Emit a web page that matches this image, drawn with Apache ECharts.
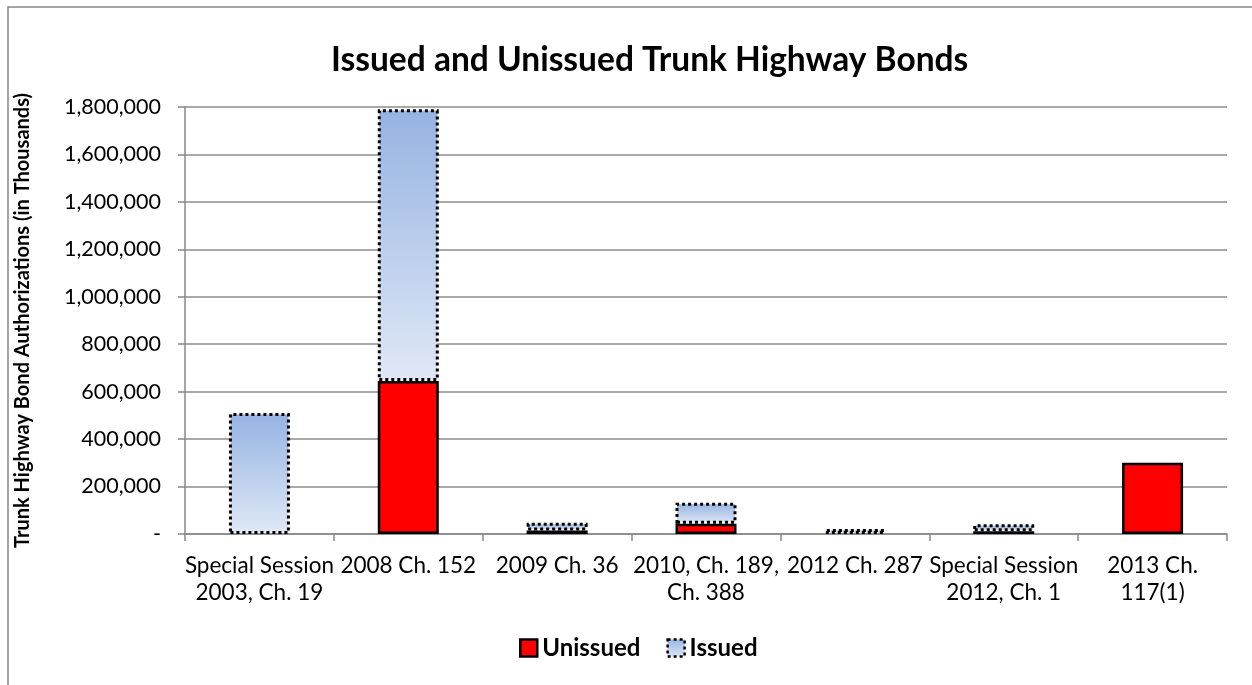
<!DOCTYPE html>
<html>
<head>
<meta charset="utf-8">
<script src="https://cdn.jsdelivr.net/npm/echarts@6/dist/echarts.min.js"></script>
<style>
html,body{margin:0;padding:0;background:#fff;}
#chart{width:1252px;height:685px;}
</style>
</head>
<body>
<div id="chart"></div>
<script>
const categories = [
  "Special Session\n2003, Ch. 19",
  "2008 Ch. 152",
  "2009 Ch. 36",
  "2010, Ch. 189,\nCh. 388",
  "2012 Ch. 287",
  "Special Session\n2012, Ch. 1",
  "2013 Ch.\n117(1)"
];
const unissued = [0, 645000, 15000, 43000, 0, 12000, 300000];
const issued = [510000, 1145000, 32000, 89000, 21000, 29000, 0];
const yTicks = { min: 0, max: 1800000, interval: 200000 };

const FONT = "Lato, 'Open Sans', sans-serif";
const chart = echarts.init(document.getElementById('chart'));
const issuedGradient = new echarts.graphic.LinearGradient(0, 0, 0, 1, [
  { offset: 0, color: '#95b3e2' },
  { offset: 1, color: '#e0e8f6' }
]);
const nz = arr => arr.map(v => (v === 0 ? null : v));
chart.setOption({
  animation: false,
  backgroundColor: '#fff',
  textStyle: { fontFamily: FONT },
  graphic: [{
    type: 'rect',
    shape: { x: 8, y: 7, width: 1400, height: 800 },
    style: { fill: 'none', stroke: '#888', lineWidth: 1.5 },
    silent: true
  }],
  title: {
    text: 'Issued and Unissued Trunk Highway Bonds',
    left: 326,
    top: 38,
    textStyle: { fontFamily: FONT, fontSize: 33.5, fontWeight: 'bold', color: '#000' }
  },
  legend: {
    bottom: 20,
    left: 514,
    icon: 'rect',
    itemWidth: 17,
    itemHeight: 17,
    itemGap: 26,
    textStyle: { fontFamily: FONT, fontSize: 24, fontWeight: 'bold', color: '#000' },
    data: [
      { name: 'Unissued', itemStyle: { color: '#ff0000', borderColor: '#000', borderWidth: 2.5 } },
      { name: 'Issued', itemStyle: { color: issuedGradient, borderColor: '#000', borderWidth: 2.5, borderType: [3, 3] } }
    ]
  },
  grid: { left: 185, right: 25, top: 107, bottom: 151, containLabel: false },
  xAxis: {
    type: 'category',
    data: categories,
    axisLine: { lineStyle: { color: '#888', width: 1.5 } },
    axisTick: { show: true, alignWithLabel: false, length: 7, lineStyle: { color: '#888', width: 1.5 } },
    axisLabel: { fontFamily: FONT, fontSize: 22.5, color: '#000', lineHeight: 27, margin: 18, interval: 0 }
  },
  yAxis: {
    type: 'value',
    min: yTicks.min,
    max: yTicks.max,
    interval: yTicks.interval,
    name: 'Trunk Highway Bond Authorizations (in Thousands)',
    nameLocation: 'middle',
    nameGap: 152,
    nameRotate: 90,
    nameTextStyle: { fontFamily: FONT, fontSize: 20, fontWeight: 'bold', color: '#000' },
    axisLine: { show: true, lineStyle: { color: '#888', width: 1.5 } },
    axisTick: { show: true, length: 7, lineStyle: { color: '#888', width: 1.5 } },
    axisLabel: {
      fontFamily: FONT, fontSize: 21.5, color: '#000', margin: 24,
      formatter: v => v === 0 ? '-' : v.toLocaleString('en-US')
    },
    splitLine: { lineStyle: { color: '#8c8c8c', width: 1.5 } }
  },
  series: [
    {
      name: 'Unissued', type: 'bar', stack: 'total', barWidth: 61,
      data: nz(unissued),
      itemStyle: { color: '#ff0000', borderColor: '#000', borderWidth: 2.5 }
    },
    {
      name: 'Issued', type: 'bar', stack: 'total', barWidth: 61,
      data: nz(issued),
      itemStyle: { color: issuedGradient, borderColor: '#000', borderWidth: 3, borderType: [3, 3] }
    }
  ]
});
</script>
</body>
</html>
